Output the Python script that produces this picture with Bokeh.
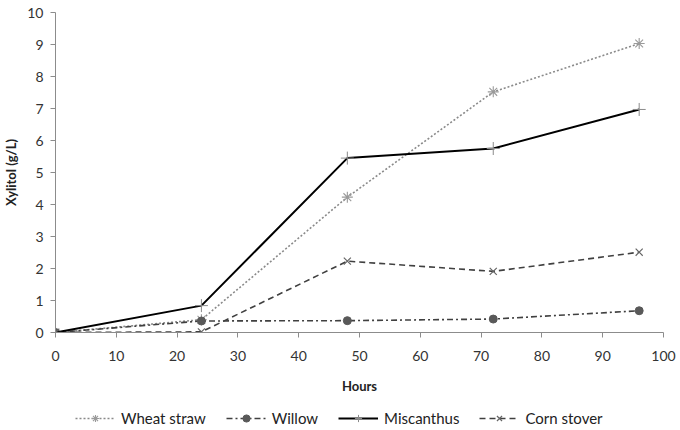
from bokeh.plotting import figure
from bokeh.layouts import column
from bokeh.models import Range1d, FixedTicker, Legend, LegendItem
from bokeh.embed import file_html
from bokeh.resources import INLINE

hours = [0, 24, 48, 72, 96]
wheat_straw = [0.0, 0.40, 4.23, 7.52, 9.03]
willow = [0.0, 0.36, 0.37, 0.42, 0.68]
miscanthus = [0.0, 0.84, 5.45, 5.75, 6.97]
corn_stover = [0.0, 0.02, 2.23, 1.91, 2.51]
series_names = ["Wheat straw", "Willow", "Miscanthus", "Corn stover"]

x_ticks = [0, 10, 20, 30, 40, 50, 60, 70, 80, 90, 100]
y_ticks = [0, 1, 2, 3, 4, 5, 6, 7, 8, 9, 10]

FONT = "Lato"

p = figure(width=680, height=406, output_backend="svg", toolbar_location=None,
           x_range=Range1d(0, 100), y_range=Range1d(0, 10),
           min_border_left=54, min_border_right=17, min_border_top=12,
           min_border_bottom=74)
p.outline_line_color = None
p.xgrid.visible = False
p.ygrid.visible = False

for ax in (p.xaxis, p.yaxis):
    ax.axis_line_color = "#8c8c8c"
    ax.axis_line_width = 1
    ax.major_tick_line_color = "#8c8c8c"
    ax.major_tick_out = 5
    ax.major_tick_in = 0
    ax.minor_tick_line_color = None
    ax.major_label_text_font = FONT
    ax.major_label_text_font_size = "14px"
    ax.major_label_text_color = "#333333"
    ax.axis_label_text_font = FONT
    ax.axis_label_text_font_size = "13px"
    ax.axis_label_text_font_style = "bold"
    ax.axis_label_text_color = "#222222"

p.xaxis.ticker = FixedTicker(ticks=x_ticks)
p.yaxis.ticker = FixedTicker(ticks=y_ticks)
p.xaxis.axis_label = "Hours"
p.yaxis.axis_label = "Xylitol (g/L)"
p.xaxis.major_label_standoff = 13
p.yaxis.major_label_standoff = 7
p.xaxis.axis_label_standoff = 14
p.yaxis.axis_label_standoff = 5

styles = [
    dict(line=dict(line_color="#8a8a8a", line_width=1.6, line_dash="2 2"),
         mark=dict(marker="asterisk", size=11, line_color="#9a9a9a", line_width=1.1)),
    dict(line=dict(line_color="#404040", line_width=1.6, line_dash="6 3 2 3"),
         mark=dict(marker="circle", size=8, fill_color="#595959", line_color="#595959")),
    dict(line=dict(line_color="#000000", line_width=2),
         mark=dict(marker="cross", size=13, line_color="#8a8a8a", line_width=1)),
    dict(line=dict(line_color="#404040", line_width=1.6, line_dash="6 4"),
         mark=dict(marker="x", size=10, line_color="#666666", line_width=1.2)),
]
series = [wheat_straw, willow, miscanthus, corn_stover]

for ys, st in zip(series, styles):
    p.line(hours, ys, **st["line"])
    p.scatter(hours, ys, **st["mark"])

# legend strip below the chart (renderers hold no drawable point)
nan = float("nan")
lf = figure(width=680, height=24, output_backend="svg", toolbar_location=None,
            x_axis_type=None, y_axis_type=None,
            x_range=Range1d(0, 1), y_range=Range1d(0, 1),
            min_border=0, min_border_left=0, min_border_right=0,
            min_border_top=0, min_border_bottom=0)
lf.outline_line_color = None
lf.xgrid.visible = False
lf.ygrid.visible = False
items = []
for name, st in zip(series_names, styles):
    lr = lf.line([nan, nan], [nan, nan], **st["line"])
    mr = lf.scatter([nan], [nan], **st["mark"])
    items.append(LegendItem(label=name, renderers=[lr, mr]))

legend = Legend(items=items, orientation="horizontal", location=(20, 3),
                border_line_color=None, background_fill_alpha=0,
                label_text_font=FONT, label_text_font_size="15px",
                label_text_color="#222222",
                glyph_width=40, glyph_height=18, label_standoff=6, spacing=20,
                padding=0, label_height=18, margin=0)
lf.add_layout(legend, "center")

layout = column(p, lf, spacing=0)
open("out.html", "w").write(file_html(layout, INLINE))
